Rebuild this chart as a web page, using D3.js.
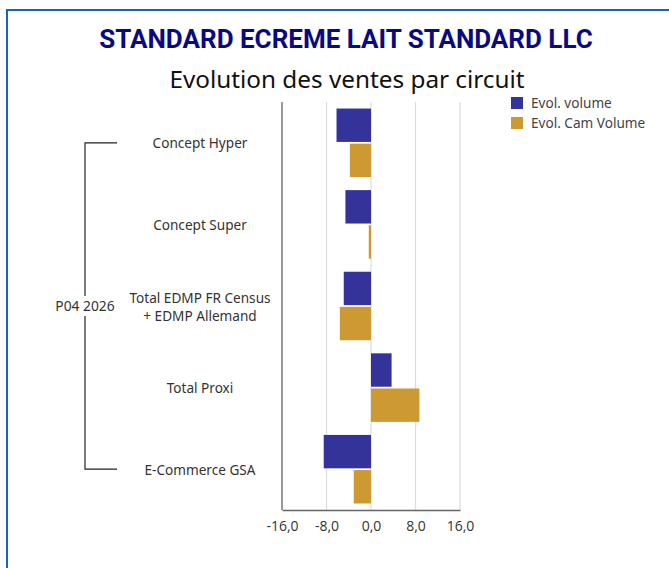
<!DOCTYPE html>
<html>
<head>
<meta charset="utf-8">
<script src="https://cdn.jsdelivr.net/npm/d3@7"></script>
<style>
  body { margin: 0; background: #fff; }
  svg { display: block; font-family: "Noto Sans", "Open Sans", sans-serif; }
</style>
</head>
<body>
<svg id="chart" width="669" height="568"></svg>
<script>
const categories = ["Concept Hyper", "Concept Super", "Total EDMP FR Census\n+ EDMP Allemand", "Total Proxi", "E-Commerce GSA"]
const seriesNames = ["Evol. volume", "Evol. Cam Volume"]
const evolVolume = [-6.2, -4.6, -4.9, 3.7, -8.5]
const evolCamVolume = [-3.8, -0.4, -5.6, 8.7, -3.1]
const xTicks = [-16, -8, 0, 8, 16]
const groupLabel = "P04 2026"
const colors = ["#343399", "#cc9933"]

const svg = d3.select("#chart")

// frame, bleeds off the right and bottom like the screenshot
svg.append("rect")
  .attr("x", 7).attr("y", 10).attr("width", 700).attr("height", 600)
  .attr("fill", "none").attr("stroke", "#1a63b8").attr("stroke-width", 2)

svg.append("text")
  .attr("x", 346).attr("y", 48).attr("text-anchor", "middle")
  .attr("font-family", "Roboto, 'Noto Sans', sans-serif")
  .attr("font-size", 26).attr("font-weight", 700).attr("fill", "#0a0a80")
  .text("STANDARD ECREME LAIT STANDARD LLC")

svg.append("text")
  .attr("x", 347).attr("y", 88).attr("text-anchor", "middle")
  .attr("font-size", 24.3).attr("fill", "#111")
  .text("Evolution des ventes par circuit")

const x = d3.scaleLinear().domain([-16, 16]).range([282, 460])
const y = d3.scaleBand().domain(categories).range([102, 510]).paddingInner(0.16).paddingOuter(0.08)
const ySub = d3.scaleBand().domain(seriesNames).range([0, y.bandwidth()]).paddingInner(0.05)

// gridlines
svg.append("g").selectAll("line")
  .data(xTicks.slice(1))
  .join("line")
    .attr("x1", d => x(d)).attr("x2", d => x(d))
    .attr("y1", 102).attr("y2", 510)
    .attr("stroke", "#dcdcdc").attr("stroke-width", 1.2)

const rows = categories.map((c, i) => [evolVolume[i], evolCamVolume[i]])

const groups = svg.append("g").selectAll("g")
  .data(categories)
  .join("g")
    .attr("transform", d => `translate(0,${y(d)})`)

groups.selectAll("rect")
  .data((d, i) => rows[i].map((v, j) => ({ name: seriesNames[j], v, j })))
  .join("rect")
    .attr("x", d => x(Math.min(0, d.v)))
    .attr("width", d => Math.abs(x(d.v) - x(0)))
    .attr("y", d => ySub(d.name))
    .attr("height", ySub.bandwidth())
    .attr("fill", d => colors[d.j])

// axes
const xAxis = svg.append("g")
  .attr("transform", "translate(0,510)")
  .call(d3.axisBottom(x).tickValues(xTicks).tickSize(0).tickPadding(11)
    .tickFormat(d => d3.format(".1f")(d).replace(".", ",").replace("−", "-")))
xAxis.select(".domain").attr("stroke", "#666").attr("stroke-width", 1.5)
xAxis.selectAll("text").attr("font-size", 14).attr("fill", "#333")
  .attr("font-family", "'Open Sans', 'Noto Sans', sans-serif")

svg.append("line")
  .attr("x1", 282).attr("x2", 282).attr("y1", 102).attr("y2", 510)
  .attr("stroke", "#777").attr("stroke-width", 1.5)

// category labels
const labels = svg.append("g").selectAll("text")
  .data(categories)
  .join("text")
    .attr("text-anchor", "middle")
    .attr("font-size", 13.6).attr("fill", "#333")
    .attr("x", 200)
    .attr("y", d => y(d) + y.bandwidth() / 2 + 5.5 - (d.split("\n").length - 1) * 9)
labels.selectAll("tspan")
  .data(d => d.split("\n"))
  .join("tspan")
    .attr("x", 200)
    .attr("dy", (d, i) => i ? 18 : 0)
    .text(d => d)

// group bracket
const yTop = y(categories[0]) + y.bandwidth() / 2
const yBot = y(categories[categories.length - 1]) + y.bandwidth() / 2
svg.append("path")
  .attr("d", `M117,${yTop}H85V${yBot}H117`)
  .attr("fill", "none").attr("stroke", "#222").attr("stroke-width", 1.2)
svg.append("rect")
  .attr("x", 50).attr("y", (yTop + yBot) / 2 - 10).attr("width", 70).attr("height", 20).attr("fill", "#fff")
svg.append("text")
  .attr("x", 85).attr("y", (yTop + yBot) / 2 + 5).attr("text-anchor", "middle")
  .attr("font-size", 13.8).attr("fill", "#333")
  .text(groupLabel)

// legend
const legend = svg.append("g").selectAll("g")
  .data(seriesNames)
  .join("g")
    .attr("transform", (d, i) => `translate(511,${97 + i * 20})`)
legend.append("rect").attr("width", 12).attr("height", 12).attr("fill", (d, i) => colors[i])
legend.append("text").attr("x", 20).attr("y", 11)
  .attr("font-size", 13.6).attr("fill", "#444").text(d => d)
</script>
</body>
</html>
